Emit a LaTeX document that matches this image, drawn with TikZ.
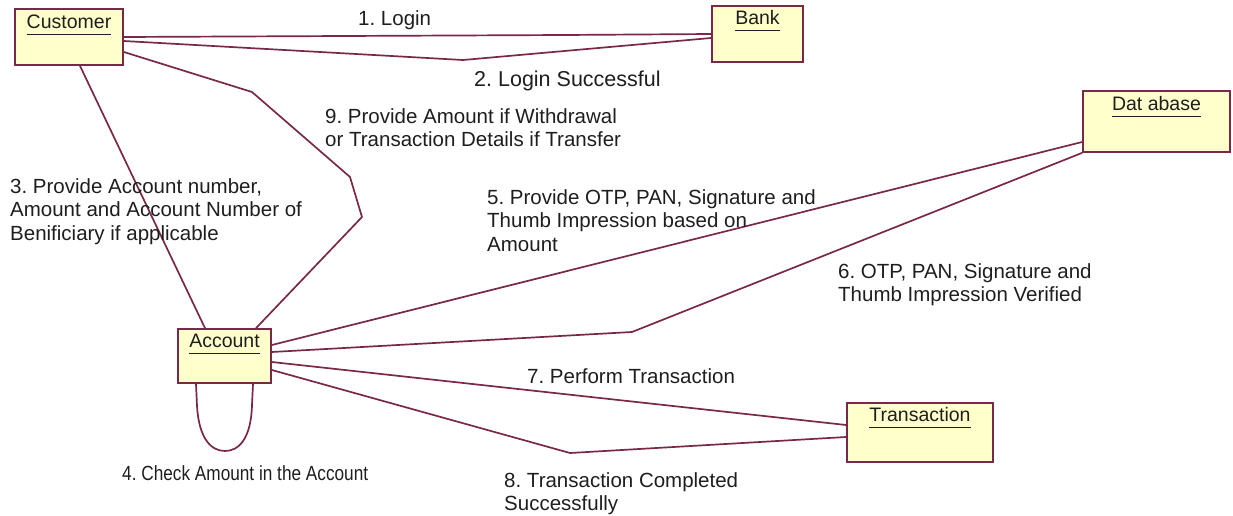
\documentclass[tikz,border=0pt]{standalone}
\usepackage{fontspec}
\setmainfont{Liberation Sans}
\definecolor{wire}{RGB}{122,40,72}
\definecolor{objfill}{RGB}{255,255,204}
\definecolor{ink}{RGB}{30,30,30}
\newcommand{\objtitle}[1]{\underline{\smash{#1}\vphantom{g}}}
\begin{document}
\frenchspacing
\begin{tikzpicture}[x=1pt,y=-1pt,
  obj/.style={draw=wire,line width=1.7pt,fill=objfill,inner sep=0pt},
  objname/.style={font=\fontsize{19.5}{22}\selectfont,text=ink,anchor=north,inner sep=0pt},
  msg/.style={font=\fontsize{20.5}{23.5}\selectfont,text=ink,align=left,anchor=north west,inner sep=0pt},
  link/.style={draw=wire,line width=1.7pt,line join=round}]
\useasboundingbox (0,0) rectangle (1233,516);

% objects
\node[obj,minimum width=108pt,minimum height=56pt] (cust) at (69,37) {};
\node[obj,minimum width=91pt,minimum height=56pt] (bank) at (757.5,34) {};
\node[obj,minimum width=147pt,minimum height=61pt] (db) at (1156.5,121.5) {};
\node[obj,minimum width=93pt,minimum height=54pt] (acc) at (224.5,356) {};
\node[obj,minimum width=146pt,minimum height=59pt] (trn) at (920,432.5) {};

\node[objname] (custname) at ([yshift=-10pt]cust.north) {\objtitle{Customer}};
\node[objname] (bankname) at ([yshift=-9pt]bank.north) {\objtitle{Bank}};
\node[objname] (dbname) at ([yshift=-10pt]db.north) {\objtitle{Dat abase}};
\node[objname] (accname) at ([yshift=-9pt]acc.north) {\objtitle{Account}};
\node[objname] (trnname) at ([yshift=-9pt]trn.north) {\objtitle{Transaction}};

% bend points
\coordinate (k1) at (565,35);
\coordinate (k2) at (463,60);
\coordinate (k9a) at (252,92);
\coordinate (k9b) at (350,177);
\coordinate (k9c) at (362,217);
\coordinate (k6) at (632,332);
\coordinate (k8) at (570,453);

% links
\draw[link] (cust.east) -- (k1) -- (bank.west);
\draw[link] ([yshift=-4pt]cust.east) -- (k2) -- ([yshift=-4pt]bank.west);
\draw[link] ([xshift=11pt]cust.south) -- ([xshift=-19.5pt]acc.north);
\draw[link] ([yshift=-15pt]cust.east) -- (k9a) -- (k9b) -- (k9c) -- ([xshift=31.5pt]acc.north);
\draw[link] ([yshift=11pt]acc.east) -- ([yshift=-20.5pt]db.west);
\draw[link] ([yshift=4pt]acc.east) -- (k6) -- (db.south west);
\draw[link] ([yshift=-6pt]acc.east) -- ([yshift=7.5pt]trn.west);
\draw[link] ([yshift=-14pt]acc.east) -- (k8) -- ([yshift=-4.5pt]trn.west);
\draw[link] ([xshift=-28.5pt]acc.south) -- ++(1,22) .. controls (199,440) and (212,451) .. (225,451)
  .. controls (238,451) and (251,440) .. (252,405) -- ([xshift=28.5pt]acc.south);

% messages
\node[msg] (m1) at (358,10) {1. Login};
\node[msg,font=\fontsize{21.5}{23.5}\selectfont] (m2) at (474,71) {2. Login Successful};
\node[msg] (m9) at (325,108) {9. Provide Amount if Withdrawal\\or Transaction Details if Transfer};
\node[msg] (m3) at (10,178) {3. Provide Account number,\\Amount and Account Number of\\Benificiary if applicable};
\node[msg] (m5) at (487,189) {5. Provide OTP, PAN, Signature and\\Thumb Impression based on\\Amount};
\node[msg] (m6) at (838,263) {6. OTP, PAN, Signature and\\Thumb Impression Verified};
\node[msg] (m7) at (527,368) {7. Perform Transaction};
\node[msg] (m4) at (122,465) {\scalebox{0.84}[1]{4. Check Amount in the Account}};
\node[msg] (m8) at (504,472) {8. Transaction Completed\\Successfully};
\end{tikzpicture}
\end{document}
